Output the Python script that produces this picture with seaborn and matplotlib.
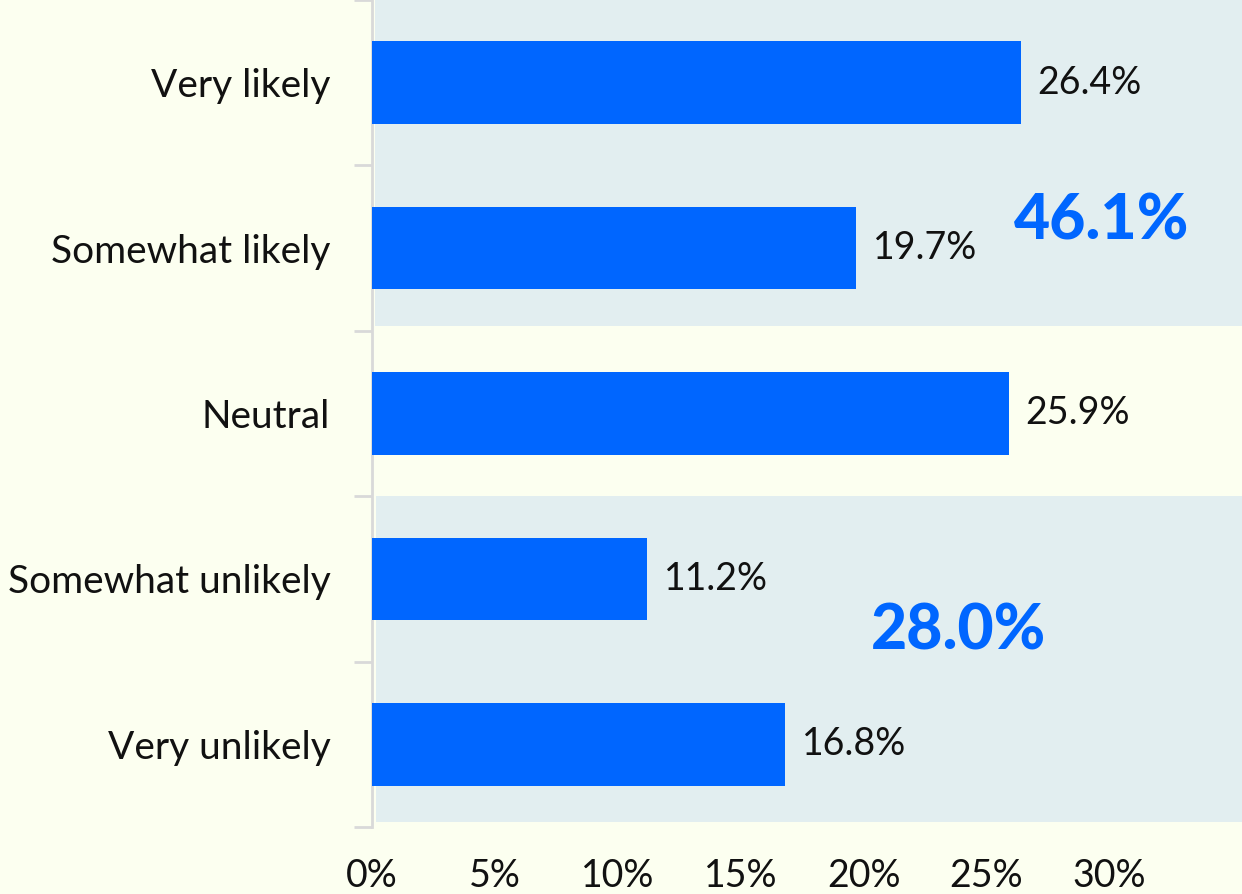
import matplotlib
matplotlib.use("Agg")
import matplotlib.pyplot as plt
import seaborn as sns
import pandas as pd

categories = ["Very likely", "Somewhat likely", "Neutral", "Somewhat unlikely", "Very unlikely"]
values = [26.4, 19.7, 25.9, 11.2, 16.8]
xticks = [0, 5, 10, 15, 20, 25, 30]
xtick_labels = ["0%", "5%", "10%", "15%", "20%", "25%", "30%"]
group_labels = ["46.1%", "28.0%"]

sns.set_theme(style="white")
plt.rcParams['font.family'] = ['Lato', 'DejaVu Sans']

bg = "#FCFFF0"
shade = "#E2EEF0"
blue = "#0066FF"

df = pd.DataFrame({"cat": categories, "val": values})

fig = plt.figure(figsize=(12.42, 8.94), dpi=100, facecolor=bg)
ax = fig.add_axes([0.2995, 0.075, 0.7005, 0.925])
ax.set_facecolor(bg)

sns.barplot(data=df, x="val", y="cat", orient="h", color=blue, width=0.5,
            saturation=1, ax=ax, zorder=3, linewidth=0, edgecolor="none")

ax.set_xlim(0, 35.4)
ax.set_ylim(4.5, -0.5)

ax.axhspan(-0.5, 1.47, xmin=0.003, xmax=1, color=shade, zorder=0, lw=0)
ax.axhspan(2.5, 4.47, xmin=0.005, xmax=1, color=shade, zorder=0, lw=0)

for i, v in enumerate(values):
    ax.text(v + 0.68, i, f"{v:.1f}%", va="center", ha="left", fontsize=27, color="#111111", zorder=4)

ax.text(29.7, 0.84, group_labels[0], ha="center", va="center", fontsize=45,
        fontweight="black", color=blue, zorder=4)
ax.text(23.85, 3.32, group_labels[1], ha="center", va="center", fontsize=45,
        fontweight="black", color=blue, zorder=4)

ax.set_xticks(xticks)
ax.set_xticklabels(xtick_labels, fontsize=27, color="#111111")
ax.tick_params(axis="x", length=0, pad=22)

ax.set_yticks([-0.5, 0.5, 1.5, 2.5, 3.5, 4.5], minor=True)
ax.set_yticks(range(len(categories)))
ax.set_yticklabels(categories, fontsize=28, color="#111111")
ax.tick_params(axis="y", which="major", length=0, pad=30)
ax.tick_params(axis="y", which="minor", length=13, width=2, color="#D9D9D9", left=True)

ax.set_xlabel("")
ax.set_ylabel("")
for s in ["top", "right", "bottom"]:
    ax.spines[s].set_visible(False)
ax.spines["left"].set_color("#D9D9D9")
ax.spines["left"].set_linewidth(2)

fig.savefig("out.png", dpi=100, facecolor=bg)
